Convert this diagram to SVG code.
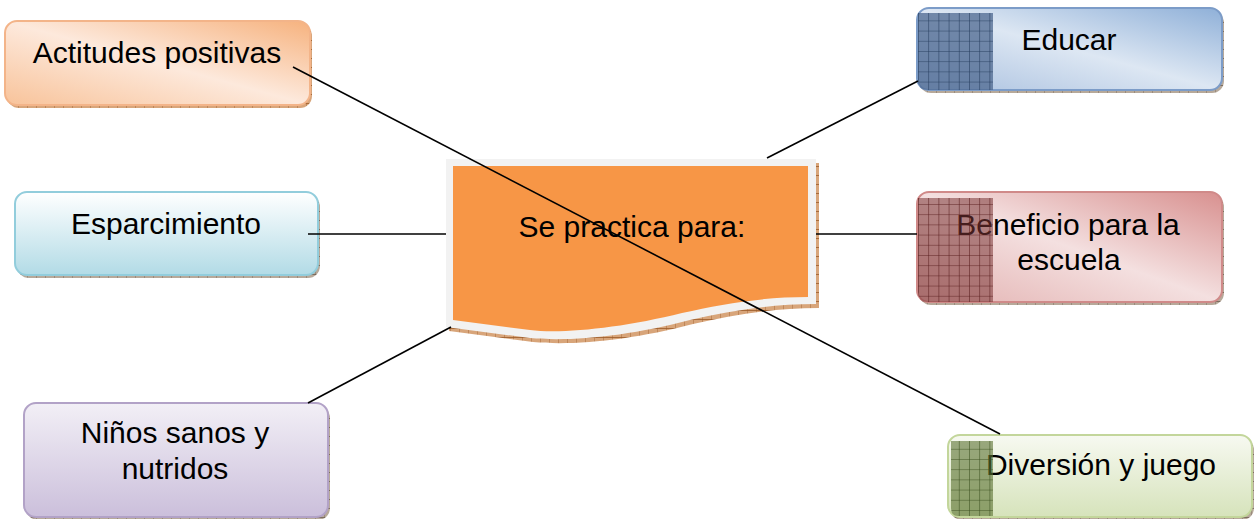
<svg xmlns="http://www.w3.org/2000/svg" width="1254" height="519" viewBox="0 0 1254 519">
<defs>
<style>
.t{font-family:"Liberation Sans",Arial,sans-serif;font-size:30px;fill:#000;text-anchor:middle}
.c{stroke:#000;stroke-width:1.6;fill:none}
</style>
<pattern id="tick" width="9" height="9" patternUnits="userSpaceOnUse">
<rect width="9" height="9" fill="#b7a99a"/>
<path d="M0 0V9M0 4.5H9" stroke="#6e5f52" stroke-width="0.8"/>
</pattern>
<pattern id="tickO" width="9" height="9" patternUnits="userSpaceOnUse">
<rect width="9" height="9" fill="#d8a57a"/>
<path d="M0 0V9M0 4.5H9" stroke="#9c5a28" stroke-width="0.8"/>
</pattern>
<pattern id="gB" width="10.2" height="10.2" patternUnits="userSpaceOnUse">
<rect width="10.2" height="10.2" fill="#4d6890" fill-opacity="0.75"/>
<path d="M0 0V10.2M0 0H10.2" stroke="#263d5e" stroke-width="1.1"/>
</pattern>
<pattern id="gR" width="10.2" height="10.2" patternUnits="userSpaceOnUse">
<rect width="10.2" height="10.2" fill="#7a3434" fill-opacity="0.55"/>
<path d="M0 0V10.2M0 0H10.2" stroke="#5a1e1e" stroke-width="1.1"/>
</pattern>
<pattern id="gG" width="10.2" height="10.2" patternUnits="userSpaceOnUse">
<rect width="10.2" height="10.2" fill="#5a7230" fill-opacity="0.6"/>
<path d="M0 0V10.2M0 0H10.2" stroke="#3d5220" stroke-width="1.1"/>
</pattern>
<linearGradient id="fO" x1="1" y1="0" x2="0" y2="1">
<stop offset="0" stop-color="#f6b27e"/><stop offset="0.5" stop-color="#fde9dc"/><stop offset="1" stop-color="#f8c39a"/>
</linearGradient>
<linearGradient id="fB" x1="1" y1="0" x2="0" y2="1">
<stop offset="0" stop-color="#8fb0d8"/><stop offset="0.5" stop-color="#dde7f3"/><stop offset="1" stop-color="#a9c0df"/>
</linearGradient>
<linearGradient id="fR" x1="1" y1="0" x2="0" y2="1">
<stop offset="0" stop-color="#d8908f"/><stop offset="0.5" stop-color="#f4e0e0"/><stop offset="1" stop-color="#e3b2b1"/>
</linearGradient>
<linearGradient id="fC" x1="0" y1="0" x2="0" y2="1">
<stop offset="0" stop-color="#ffffff"/><stop offset="1" stop-color="#b2dbe6"/>
</linearGradient>
<linearGradient id="fP" x1="0" y1="0" x2="0" y2="1">
<stop offset="0" stop-color="#f2eff6"/><stop offset="1" stop-color="#cbbfdb"/>
</linearGradient>
<linearGradient id="fG" x1="0" y1="0" x2="0" y2="1">
<stop offset="0" stop-color="#f7f9f1"/><stop offset="1" stop-color="#d6e3bb"/>
</linearGradient>
</defs>
<rect width="1254" height="519" fill="#fff"/>

<g id="actitudes">
<rect x="7" y="24" width="305" height="84" rx="12" fill="url(#tickO)"/>
<rect x="5" y="21" width="305" height="84" rx="12" fill="url(#fO)" stroke="#f3b489" stroke-width="2"/>
<text class="t" x="157" y="63">Actitudes positivas</text>
</g>

<g id="esparcimiento">
<rect x="17" y="195" width="303" height="83" rx="12" fill="url(#tick)"/>
<rect x="15" y="192" width="303" height="83" rx="12" fill="url(#fC)" stroke="#92cddc" stroke-width="2"/>
<text class="t" x="166" y="234">Esparcimiento</text>
</g>

<g id="ninos">
<rect x="26" y="406" width="304" height="114" rx="12" fill="url(#tick)"/>
<rect x="24" y="403" width="304" height="114" rx="12" fill="url(#fP)" stroke="#b2a2c7" stroke-width="2"/>
<text class="t" x="175" y="443">Niños sanos y</text>
<text class="t" x="175" y="479">nutridos</text>
</g>

<g id="educar">
<rect x="919" y="11" width="305" height="82" rx="12" fill="url(#tick)"/>
<rect x="917" y="8" width="305" height="82" rx="12" fill="url(#fB)" stroke="#7c9cc8" stroke-width="2"/>
<text class="t" x="1069" y="50">Educar</text>
<path d="M918,13 H993 V90 H928 Q918,90 918,80 Z" fill="url(#gB)"/>
</g>

<g id="beneficio">
<rect x="919" y="195" width="305" height="110" rx="12" fill="url(#tick)"/>
<rect x="917" y="192" width="305" height="110" rx="12" fill="url(#fR)" stroke="#d08a89" stroke-width="2"/>
<text class="t" x="1068" y="235">Beneficio para la</text>
<text class="t" x="1069" y="270">escuela</text>
<path d="M918,198 H993 V302 H928 Q918,302 918,292 Z" fill="url(#gR)"/>
</g>

<g id="diversion">
<rect x="950" y="438" width="304" height="82" rx="12" fill="url(#tick)"/>
<rect x="948" y="435" width="304" height="82" rx="12" fill="url(#fG)" stroke="#c3d69b" stroke-width="2"/>
<text class="t" x="1101" y="475">Diversión y juego</text>
<path d="M951,441 H993 V516 H958 Q951,516 951,508 Z" fill="url(#gG)"/>
</g>

<g id="centro">
<path d="M449,163 H819 V308 C773,308 733,315 693,324 C633,340 573,346 533,342 L449,331 Z" fill="url(#tickO)"/>
<path d="M446,159 H816 V304 C770,304 730,311 690,320 C630,336 570,342 530,338 L446,327 Z" fill="#f2f2f2"/>
<path d="M453,166 H808 V297 C762,297 722,304 682,313 C622,328 562,334 530,330 L453,320 Z" fill="#f79646"/>
<text class="t" x="632" y="237">Se practica para:</text>
</g>

<g id="connectors">
<line class="c" x1="293" y1="67" x2="1000" y2="434"/>
<line class="c" x1="767" y1="158" x2="918" y2="81"/>
<line class="c" x1="308" y1="234" x2="446" y2="234"/>
<line class="c" x1="816" y1="234" x2="917" y2="234"/>
<line class="c" x1="308" y1="403" x2="451" y2="327"/>
</g>
</svg>
